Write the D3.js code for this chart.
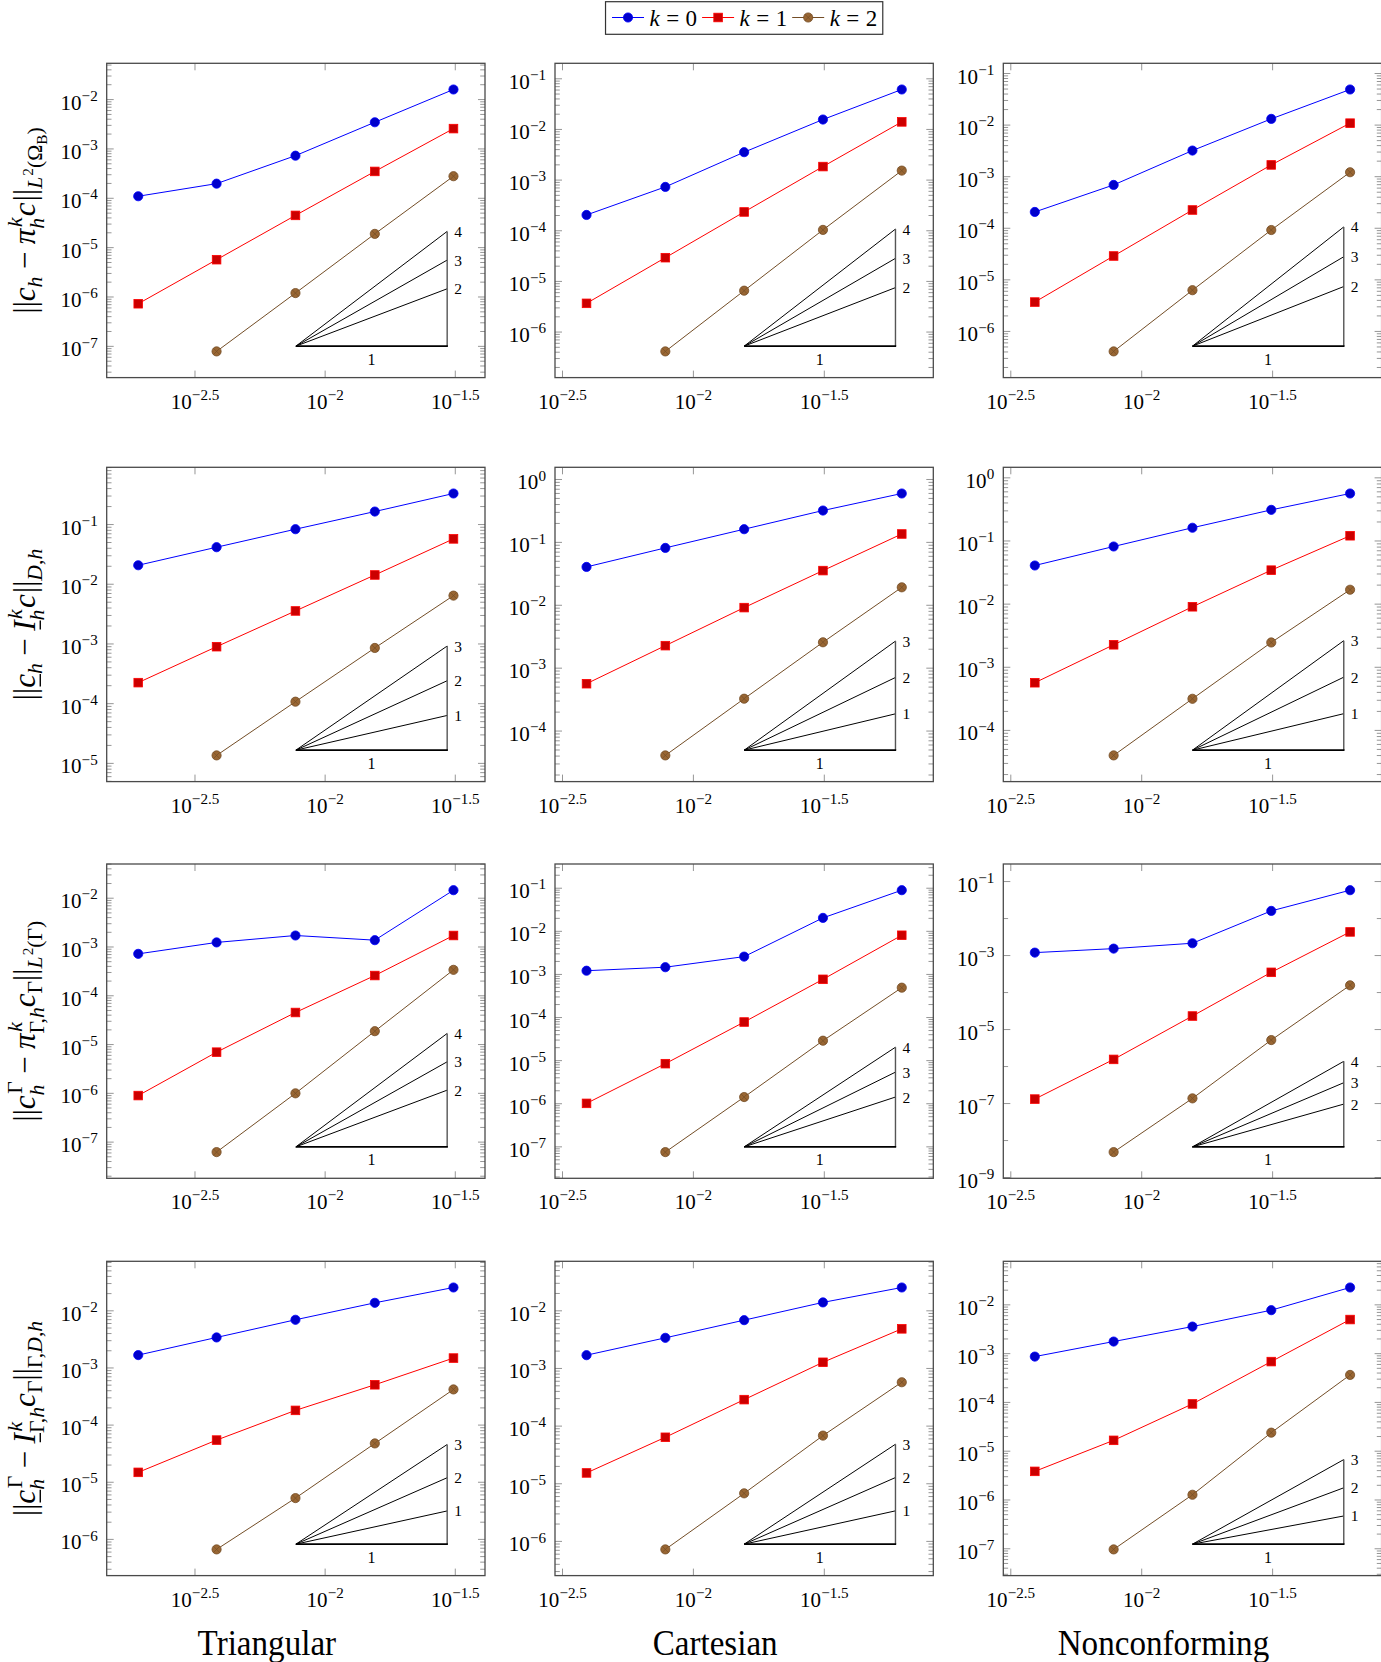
<!DOCTYPE html>
<html>
<head>
<meta charset="utf-8">
<script src="https://cdn.jsdelivr.net/npm/d3@7"></script>
<style>
  body { margin: 0; background: #fff; }
  text { font-family: "Liberation Serif", "Times New Roman", serif; fill: #000; }
</style>
</head>
<body>
<div id="main"></div>
<script>
const ctx = {
    w: 1381,
    h: 1662,
    pw: 378.3,
    ph: 314.3,
    colX: [106.7, 555, 1003.3],
    rowY: [63.3, 467.3, 864, 1261.3],
    sx: 0.92,         // titles: the TeX font is a bit narrower than Liberation Serif
};

// mesh sizes h
const hTri  = [0.001914, 0.003828, 0.007691, 0.01552, 0.03112];
const hCart = [0.00390625, 0.0078125, 0.015625, 0.03125, 0.0625];
const hNc   = [0.00390625, 0.0078125, 0.015625, 0.03125, 0.0625];

const kValues = [0, 1, 2];
const meshes  = ["Triangular", "Cartesian", "Nonconforming"];
const slopes  = [[2, 3, 4], [1, 2, 3], [2, 3, 4], [1, 2, 3]];
const xTickExp = [-2.5, -2, -1.5];

// row 1: ||c_h - pi_h^k c||_{L2(Omega_B)}   (one array per k)
const l2BulkTri  = [[1.10e-4, 1.98e-4, 7.3e-4, 3.47e-3, 1.60e-2],
                    [7.3e-7, 5.7e-6, 4.5e-5, 3.5e-4, 2.58e-3],
                    [null, 7.9e-8, 1.2e-6, 1.9e-5, 2.8e-4]];
const l2BulkCart = [[2.05e-4, 7.34e-4, 3.56e-3, 1.57e-2, 6.15e-2],
                    [3.69e-6, 2.94e-5, 2.35e-4, 1.85e-3, 1.41e-2],
                    [null, 4.15e-7, 6.56e-6, 1.04e-4, 1.54e-3]];
const l2BulkNc   = [[2.07e-4, 6.92e-4, 3.21e-3, 1.32e-2, 4.9e-2],
                    [3.71e-6, 2.9e-5, 2.26e-4, 1.69e-3, 1.09e-2],
                    [null, 4.1e-7, 6.3e-6, 9.25e-5, 1.22e-3]];
// row 2: ||c_h - I_h^k c||_{D,h}
const dBulkTri   = [[2.08e-2, 4.17e-2, 8.35e-2, 0.165, 0.331],
                    [2.25e-4, 9.0e-4, 3.57e-3, 1.43e-2, 5.75e-2],
                    [null, 1.36e-5, 1.08e-4, 8.57e-4, 6.45e-3]];
const dBulkCart  = [[4.07e-2, 8.17e-2, 0.162, 0.321, 0.599],
                    [5.66e-4, 2.28e-3, 9.18e-3, 3.56e-2, 0.136],
                    [null, 4.1e-5, 3.27e-4, 2.58e-3, 1.93e-2]];
const dBulkNc    = [[4.09e-2, 8.18e-2, 0.162, 0.311, 0.565],
                    [5.69e-4, 2.27e-3, 9.08e-3, 3.45e-2, 0.121],
                    [null, 4.02e-5, 3.17e-4, 2.47e-3, 1.69e-2]];
// row 3: ||c_h^G - pi_{G,h}^k c_G||_{L2(G)}
const l2FracTri  = [[7.23e-4, 1.24e-3, 1.72e-3, 1.38e-3, 1.46e-2],
                    [9.0e-7, 6.98e-6, 4.54e-5, 2.6e-4, 1.72e-3],
                    [null, 6.24e-8, 1.0e-6, 1.88e-5, 3.4e-4]];
const l2FracCart = [[1.22e-3, 1.47e-3, 2.59e-3, 2.05e-2, 9.0e-2],
                    [1.02e-6, 8.5e-6, 7.87e-5, 7.7e-4, 8.1e-3],
                    [null, 7.55e-8, 1.43e-6, 2.9e-5, 4.93e-4]];
const l2FracNc   = [[1.2e-3, 1.54e-3, 2.15e-3, 1.61e-2, 5.84e-2],
                    [1.32e-7, 1.56e-6, 2.32e-5, 3.52e-4, 4.35e-3],
                    [null, 4.87e-9, 1.38e-7, 5.2e-6, 1.57e-4]];
// row 4: ||c_h^G - I_{G,h}^k c_G||_{G,D,h}
const dFracTri   = [[1.68e-3, 3.42e-3, 6.97e-3, 1.38e-2, 2.56e-2],
                    [1.49e-5, 5.47e-5, 1.81e-4, 5.08e-4, 1.49e-3],
                    [null, 6.68e-7, 5.28e-6, 4.78e-5, 4.21e-4]];
const dFracCart  = [[1.70e-3, 3.40e-3, 6.89e-3, 1.40e-2, 2.54e-2],
                    [1.54e-5, 6.4e-5, 2.88e-4, 1.28e-3, 4.87e-3],
                    [null, 7.26e-7, 6.82e-6, 6.84e-5, 5.77e-4]];
const dFracNc    = [[8.7e-4, 1.77e-3, 3.59e-3, 7.78e-3, 2.27e-2],
                    [3.86e-6, 1.67e-5, 9.31e-5, 6.87e-4, 5.0e-3],
                    [null, 9.7e-8, 1.28e-6, 2.4e-5, 3.66e-4]];

const hByCol = [hTri, hCart, hNc];
const rows = [
    [l2BulkTri, l2BulkCart, l2BulkNc],
    [dBulkTri, dBulkCart, dBulkNc],
    [l2FracTri, l2FracCart, l2FracNc],
    [dFracTri, dFracCart, dFracNc],
];

// pgfplots default cycle: blue *, red square*, brown otimes*
const styles = [
    {line: "#0000ff", fill: "#0000cc", mark: "circle"},
    {line: "#ff0000", fill: "#cc0000", mark: "square"},
    {line: "#734d26", fill: "#996633", mark: "otimes"},
];

// y labels as tiny math runs
const I = t => ({t: t, it: true});
const R = t => ({t: t});
const minus = {t: "\u2212", sp: 0.24};
const yLabels = [
    [R("||"), {t: "c", it: true, sub: [I("h")]}, minus,
     {t: "\u03c0", it: true, sup: [I("k")], sub: [I("h")]}, {t: "c", it: true, sp: 0.04},
     {t: "||", sub: [{t: "L", it: true, sup: [R("2")]}, {t: "(\u03a9", sub: [R("B")]}, R(")")]}],
    [R("||"), {t: "c", it: true, ul: true, sub: [I("h")]}, minus,
     {t: "I", it: true, ul: true, sup: [I("k")], sub: [I("h")]}, {t: "c", it: true, sp: 0.04},
     {t: "||", sub: [I("D"), R(","), I("h")]}],
    [R("||"), {t: "c", it: true, sup: [R("\u0393")], sub: [I("h")]}, minus,
     {t: "\u03c0", it: true, sup: [I("k")], sub: [R("\u0393,"), I("h")]},
     {t: "c", it: true, sub: [R("\u0393")]},
     {t: "||", sub: [{t: "L", it: true, sup: [R("2")]}, R("(\u0393)")]}],
    [R("||"), {t: "c", it: true, ul: true, sup: [R("\u0393")], sub: [I("h")]}, minus,
     {t: "I", it: true, ul: true, sup: [I("k")], sub: [R("\u0393,"), I("h")]},
     {t: "c", it: true, sub: [R("\u0393")]},
     {t: "||", sub: [R("\u0393,"), I("D"), R(","), I("h")]}],
];

// lay out a run of atoms from (x, y), returns end x
function layoutRun(g, run, x, y, size, scr) {
    scr = scr || 0.7;
    run.forEach(a => {
        x += (a.sp || 0) * size;
        let w = 0;
        if (a.t) {
            let t = g.append("text")
                .attr("x", x).attr("y", y)
                .style("font-size", size + "px")
                .style("font-style", a.it ? "italic" : "normal")
                .text(a.t);
            w = t.node().getComputedTextLength();
            if (a.ul) {
                g.append("line")
                 .attr("x1", x + 0.04 * size).attr("x2", x + w)
                 .attr("y1", y + 0.17 * size).attr("y2", y + 0.17 * size)
                 .style("stroke", "#000").style("stroke-width", size * 0.045);
            }
        }
        let xe = x + w, adv = 0;
        if (a.sup) {
            adv = layoutRun(g, a.sup, xe + (a.it ? 0.05 * size : 0.01 * size), y - 0.42 * size, size * scr) - xe;
        }
        if (a.sub) {
            adv = Math.max(adv, layoutRun(g, a.sub, xe, y + (a.sup ? 0.3 : 0.22) * size, size * 0.7) - xe);
        }
        x = xe + adv + (a.sp || 0) * size;
    });
    return x;
}

function mathText(parent, run, size, scr) {
    let g = parent.append("g");
    let w = layoutRun(g, run, 0, 0, size, scr);
    return {g: g, w: w};
}

function expLabel(e) {
    let s = (e < 0 ? "\u2212" : "") + Math.abs(e);
    return [{t: "10", sup: [R(s)]}];
}

function drawMarker(g, st, x, y) {
    let r = 4.6;
    if (st.mark == "square") {
        g.append("rect").attr("x", x - r + 0.3).attr("y", y - r + 0.3)
         .attr("width", 2 * r - 0.6).attr("height", 2 * r - 0.6)
         .style("fill", st.fill).style("stroke", st.line).style("stroke-width", 0.8);
        return;
    }
    g.append("circle").attr("cx", x).attr("cy", y).attr("r", r)
     .style("fill", st.fill).style("stroke", st.line).style("stroke-width", 0.8);
    if (st.mark == "otimes") {
        let d = r * 0.7;
        g.append("path")
         .attr("d", `M${x - d},${y - d}L${x + d},${y + d}M${x - d},${y + d}L${x + d},${y - d}`)
         .style("stroke", st.line).style("stroke-width", 0.7);
    }
}

function createPanel(svg, x0, y0, hs, series, slopeSet) {
    // pgfplots style: 10% enlargement of the data range in log space
    let lx = d3.extent(hs.map(Math.log10));
    let px = (lx[1] - lx[0]) * 0.1;
    let xlo = lx[0] - px, xhi = lx[1] + px;
    let ly = d3.extent(series.flat().filter(v => v != null).map(Math.log10));
    let py = (ly[1] - ly[0]) * 0.1;
    let ylo = ly[0] - py, yhi = ly[1] + py;

    let xs = d3.scaleLog().domain([10 ** xlo, 10 ** xhi]).range([0, ctx.pw]);
    let ys = d3.scaleLog().domain([10 ** ylo, 10 ** yhi]).range([ctx.ph, 0]);

    let g = svg.append("g").attr("transform", `translate(${x0},${y0})`);
    let ticks = g.append("g").style("stroke", "#8a8a8a").style("stroke-width", 0.9);

    // y ticks
    let step = (yhi - ylo) > 8 ? 2 : 1;
    let majors = d3.range(Math.ceil(ylo), Math.floor(yhi) + 1, step);
    let minors = [];
    d3.range(Math.floor(ylo), Math.ceil(yhi) + 1).forEach(e => {
        if (step == 1) {
            d3.range(2, 10).forEach(m => minors.push(m * 10 ** e));
        } else if (!majors.includes(e)) {
            minors.push(10 ** e);
        }
    });
    minors = minors.filter(v => Math.log10(v) > ylo && Math.log10(v) < yhi);
    minors.forEach(v => {
        let y = ys(v);
        ticks.append("line").attr("x1", 0).attr("x2", 4.8).attr("y1", y).attr("y2", y);
        ticks.append("line").attr("x1", ctx.pw).attr("x2", ctx.pw - 4.8).attr("y1", y).attr("y2", y);
    });
    majors.forEach(e => {
        let y = ys(10 ** e);
        ticks.append("line").attr("x1", 0).attr("x2", 7).attr("y1", y).attr("y2", y);
        ticks.append("line").attr("x1", ctx.pw).attr("x2", ctx.pw - 7).attr("y1", y).attr("y2", y);
        let lab = mathText(g, expLabel(e), 21, 0.72);
        lab.g.attr("transform", `translate(${-9 - lab.w},${y + 10})`);
    });

    // x ticks
    xTickExp.filter(e => e > xlo && e < xhi).forEach(e => {
        let x = xs(10 ** e);
        ticks.append("line").attr("x1", x).attr("x2", x).attr("y1", ctx.ph).attr("y2", ctx.ph - 7);
        ticks.append("line").attr("x1", x).attr("x2", x).attr("y1", 0).attr("y2", 7);
        let lab = mathText(g, expLabel(e), 21, 0.72);
        lab.g.attr("transform", `translate(${x - lab.w / 2},${ctx.ph + 31})`);
    });

    // slope triangles, drawn in log space like \logLogSlopeTriangle{0.9}{0.4}{0.1}
    let tA = xlo + 0.9 * (xhi - xlo), tB = xlo + 0.5 * (xhi - xlo);
    let tY = ylo + 0.1 * (yhi - ylo);
    let ax = xs(10 ** tA), bx = xs(10 ** tB), by = ys(10 ** tY);
    let tri = g.append("g");
    slopeSet.forEach(s => {
        let cy = ys(10 ** (tY + s * (tA - tB)));
        tri.append("line").attr("x1", bx).attr("y1", by).attr("x2", ax).attr("y2", cy)
           .style("stroke", "#000").style("stroke-width", 1);
        tri.append("text").attr("x", ax + 7).attr("y", cy + 5.5)
           .style("font-size", "15.5px").text(s);
    });
    let topY = ys(10 ** (tY + d3.max(slopeSet) * (tA - tB)));
    tri.append("line").attr("x1", ax).attr("y1", by).attr("x2", ax).attr("y2", topY)
       .style("stroke", "#555").style("stroke-width", 1.4);
    tri.append("line").attr("x1", bx).attr("y1", by).attr("x2", ax + 0.7).attr("y2", by)
       .style("stroke", "#000").style("stroke-width", 1.6);
    tri.append("text").attr("x", (ax + bx) / 2).attr("y", by + 18.5)
       .attr("text-anchor", "middle").style("font-size", "16px").text("1");

    // series
    series.forEach((vals, k) => {
        let st = styles[k];
        let pts = hs.map((h, i) => ({h: h, v: vals[i]})).filter(d => d.v != null);
        let line = d3.line().x(d => xs(d.h)).y(d => ys(d.v));
        g.append("path").datum(pts).attr("d", line)
         .style("fill", "none").style("stroke", st.line).style("stroke-width", 1);
        pts.forEach(d => drawMarker(g, st, xs(d.h), ys(d.v)));
    });

    // box
    g.append("rect").attr("width", ctx.pw).attr("height", ctx.ph)
     .style("fill", "none").style("stroke", "#4a4a4a").style("stroke-width", 1.3);
}

function createLegend(svg) {
    let g = svg.append("g");
    let x = 0;
    kValues.forEach((k, i) => {
        let st = styles[i];
        let it = g.append("g");
        it.append("line").attr("x1", x).attr("x2", x + 32).attr("y1", 17.5).attr("y2", 17.5)
          .style("stroke", st.line).style("stroke-width", 1);
        drawMarker(it, st, x + 16, 17.5);
        let lab = mathText(it, [I("k"), {t: "=", sp: 0.28}, R(String(k))], 23);
        lab.g.attr("transform", `translate(${x + 37.5},25.5)`);
        x += 37.5 + lab.w + 5;
    });
    let wBox = x + 7;
    let left = ctx.colX[1] + ctx.pw / 2 - wBox / 2;
    g.attr("transform", `translate(${left + 6.5},0)`);
    g.insert("rect", ":first-child").attr("x", -6.5).attr("y", 1.7).attr("width", wBox).attr("height", 32.6)
     .style("fill", "#fff").style("stroke", "#333").style("stroke-width", 1.2);
}

function createViz() {
    let svg = d3.select("#main").append("svg")
        .attr("width", ctx.w).attr("height", ctx.h);

    rows.forEach((row, r) => {
        row.forEach((series, c) => {
            createPanel(svg, ctx.colX[c], ctx.rowY[r], hByCol[c], series, slopes[r]);
        });
        let lab = mathText(svg, yLabels[r], 31);
        let cy = ctx.rowY[r] + ctx.ph / 2;
        lab.g.attr("transform", `translate(35,${cy}) rotate(-90) translate(${-lab.w / 2},0)`);
    });

    meshes.forEach((m, c) => {
        svg.append("text").attr("text-anchor", "middle")
           .attr("transform", `translate(${ctx.colX[c] + ctx.pw / 2 - 29},1655) scale(${ctx.sx},1)`)
           .style("font-size", "36px").text(m);
    });

    createLegend(svg);
}

createViz();
</script>
</body>
</html>
